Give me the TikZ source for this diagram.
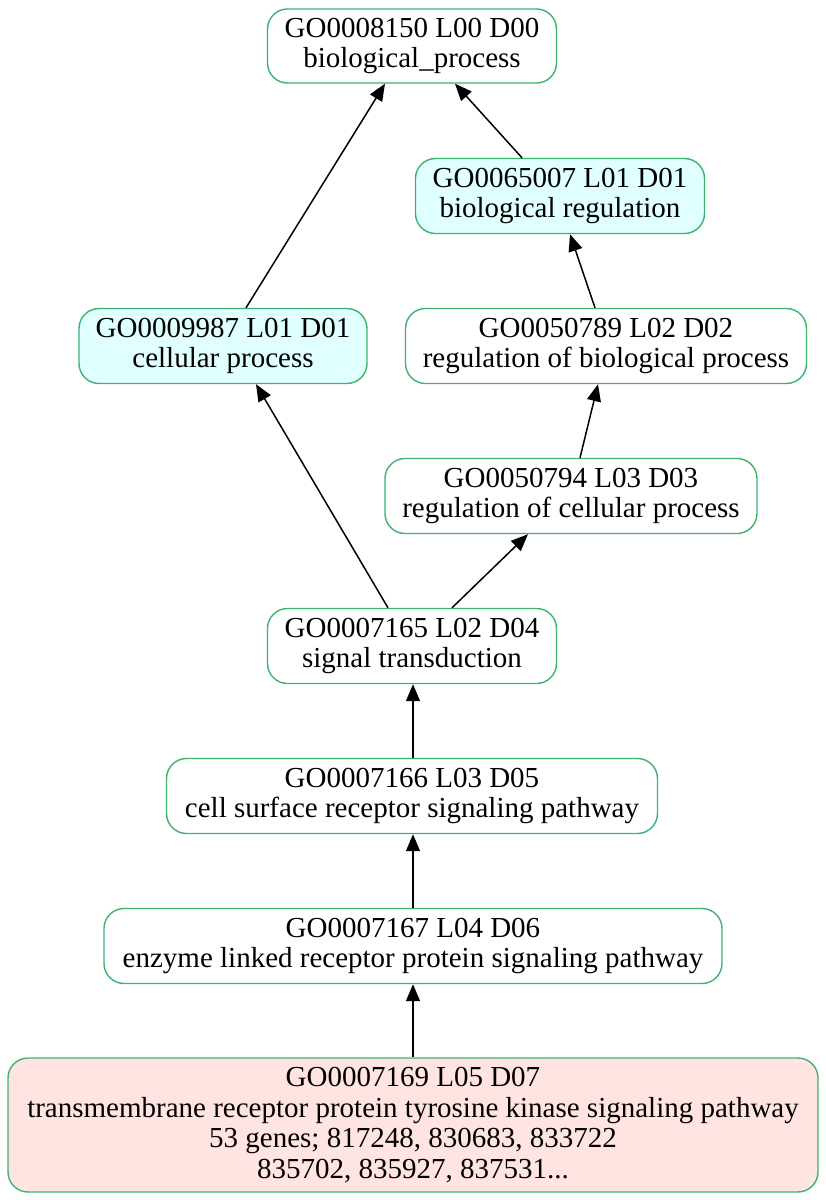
\documentclass[tikz,border=0pt]{standalone}
\usepackage{fontspec}
\setmainfont{Liberation Serif}
\usetikzlibrary{arrows.meta,calc}
\definecolor{bordergreen}{HTML}{3CB371}
\definecolor{lcyan}{HTML}{E0FFFF}
\definecolor{mrose}{HTML}{FFE4E1}
\begin{document}
\begin{tikzpicture}[x=1pt,y=-1pt,
  gobox/.style={draw=bordergreen,line width=1.4pt,rounded corners=20pt,align=center,inner sep=0pt,
    font=\fontsize{29}{30.5}\selectfont,fill=white},
  cyanbox/.style={gobox,fill=lcyan},
  rosebox/.style={gobox,fill=mrose},
  edge/.style={line width=1.5pt,-{Triangle[length=17pt,width=14pt]}}]
\useasboundingbox (0,0) rectangle (826,1200);
\node[gobox,minimum width=289pt,minimum height=74pt] (n1) at (412,46) {GO0008150 L00 D00\\biological\_process};
\node[cyanbox,minimum width=289pt,minimum height=75pt] (n2) at (560,196) {GO0065007 L01 D01\\biological regulation};
\node[cyanbox,minimum width=288pt,minimum height=75pt] (n3) at (223,346) {GO0009987 L01 D01\\cellular process};
\node[gobox,minimum width=401pt,minimum height=75pt] (n4) at (606,346) {GO0050789 L02 D02\\regulation of biological process};
\node[gobox,minimum width=372pt,minimum height=75pt] (n5) at (571,496) {GO0050794 L03 D03\\regulation of cellular process};
\node[gobox,minimum width=289pt,minimum height=75pt] (n6) at (412,646) {GO0007165 L02 D04\\signal transduction};
\node[gobox,minimum width=491pt,minimum height=75pt] (n7) at (412,796) {GO0007166 L03 D05\\cell surface receptor signaling pathway};
\node[gobox,minimum width=618pt,minimum height=75pt] (n8) at (413,946) {GO0007167 L04 D06\\enzyme linked receptor protein signaling pathway};
\node[rosebox,minimum width=810pt,minimum height=134pt] (n9) at (413,1125) {GO0007169 L05 D07\\transmembrane receptor protein tyrosine kinase signaling pathway\\53 genes; 817248, 830683, 833722\\835702, 835927, 837531...};
\draw[edge] ([xshift=23pt]n3.north) -- ([xshift=-27pt]n1.south);
\draw[edge] ([xshift=-38pt]n2.north) -- ([xshift=43pt]n1.south);
\draw[edge] ([xshift=-11pt]n4.north) -- ([xshift=10pt]n2.south);
\draw[edge] ([xshift=9pt]n5.north) -- ([xshift=-8pt]n4.south);
\draw[edge] ([xshift=-24pt]n6.north) -- ([xshift=33pt]n3.south);
\draw[edge] ([xshift=40pt]n6.north) -- ([xshift=-43pt]n5.south);
\draw[edge] ([xshift=1pt]n7.north) -- ([xshift=1pt]n6.south);
\draw[edge] (n8.north) -- ([xshift=1pt]n7.south);
\draw[edge] (n9.north) -- (n8.south);
\end{tikzpicture}
\end{document}
